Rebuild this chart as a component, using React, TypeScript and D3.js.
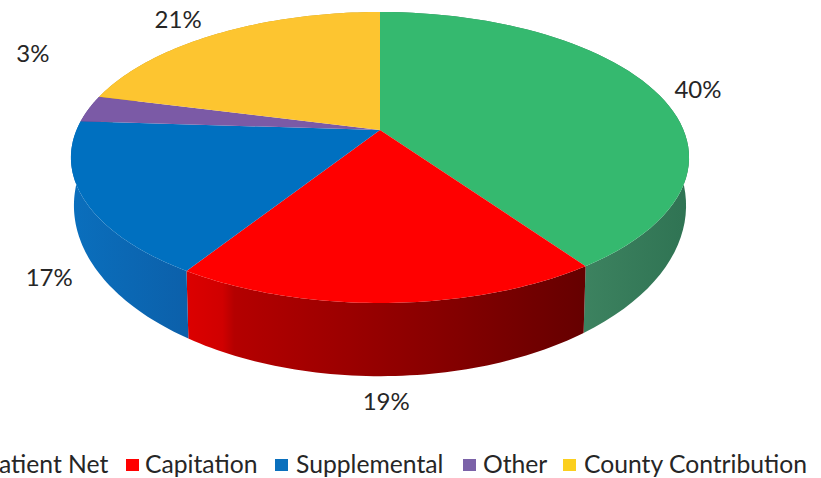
import React from 'react';
import * as d3 from 'd3';

const categories = ['Patient Net', 'Capitation', 'Supplemental', 'Other', 'County Contribution'];
// slice sizes estimated from the drawn angles, labels show them rounded
const shares = [40.3, 18.7, 17, 3, 21];
const topColors = ['#35b96f', '#ff0000', '#0070c0', '#7b5aa6', '#fdc530'];
const legendColors = ['#35b96f', '#ff0000', '#0a70bd', '#7b62a8', '#fbcf1e'];
const wallStops = [
  [[0.6, '#3f8562'], [1, '#2f7353']],
  [[0, '#dc0000'], [0.09, '#d00000'], [0.12, '#b40000'], [0.6, '#8a0000'], [1, '#650000']],
  [[0, '#0a6fbd'], [1, '#0c60aa']],
  [[0, '#5f4690'], [1, '#5f4690']],
  [[0, '#c79a20'], [1, '#c79a20']],
];

// label nudges from the rim point at each slice's middle
const labelNudge = [[44, -2], [-2, 98], [-35, 77], [-56, -56], [-40, -15]];
const legendTextX = [-15.5, 145, 296, 483, 584];
const legendSwatchX = [-34, 126, 275, 463, 563];

const width = 821;
const height = 478;
const apex = { x: 380, y: 130 };
const radiusX = 303.5;
const radiusY = 140.3;
const tilt = -0.189;

// outline of the top face and of the pie's underside
const topEllipse = { cy: 157, rx: 309, ry: 145 };
const floorEllipse = { cy: 205, rx: 306, ry: 170 };

// perspective projection of a point on the pie's rim
const rim = (a: number): [number, number] => {
  const X = Math.sin(a);
  const Y = -Math.cos(a);
  const k = 1 + tilt * Y;
  return [apex.x + (radiusX * X) / k, apex.y + (radiusY * Y) / k];
};

const floor = (a: number): [number, number] => {
  const [x, y] = rim(a);
  const u = (x - apex.x) / topEllipse.rx;
  const v = (y - topEllipse.cy) / topEllipse.ry;
  return [apex.x + u * floorEllipse.rx, floorEllipse.cy + v * floorEllipse.ry];
};

const pie = d3.pie<number>().sort(null)(shares);
const line = d3.line();

const steps = (s: d3.PieArcDatum<number>) =>
  d3.range(0, 61).map((i) => s.startAngle + ((s.endAngle - s.startAngle) * i) / 60);

export default function App() {
  return (
    <svg
      width={width}
      height={height}
      style={{ position: 'absolute', left: 0, top: 0, background: '#fff' }}
      fontFamily="Lato, 'Open Sans', sans-serif"
    >
      <defs>
        {pie.map((s, i) => {
          const xs = steps(s).map((a) => rim(a)[0]);
          return (
            <linearGradient
              key={i}
              id={`wall-${i}`}
              gradientUnits="userSpaceOnUse"
              x1={d3.min(xs)}
              x2={d3.max(xs)}
              y1={0}
              y2={0}
            >
              {wallStops[i].map(([o, c], j) => (
                <stop key={j} offset={o as number} stopColor={c as string} />
              ))}
            </linearGradient>
          );
        })}
      </defs>

      {/* side walls first, top face covers what is behind */}
      {pie.map((s, i) => {
        const arc = steps(s);
        const pts = [...arc.map(rim), ...arc.slice().reverse().map(floor)];
        return <path key={i} d={line(pts) + 'Z'} fill={`url(#wall-${i})`} />;
      })}

      {pie.map((s, i) => {
        const pts: [number, number][] = [[apex.x, apex.y], ...steps(s).map(rim)];
        return <path key={i} d={line(pts) + 'Z'} fill={topColors[i]} />;
      })}

      {pie.map((s, i) => {
        const [x, y] = rim((s.startAngle + s.endAngle) / 2);
        return (
          <text
            key={i}
            x={x + labelNudge[i][0]}
            y={y + labelNudge[i][1]}
            textAnchor="middle"
            dominantBaseline="central"
            fontSize={24}
            fill="#262626"
          >
            {Math.round(shares[i])}%
          </text>
        );
      })}

      {categories.map((c, i) => (
        <g key={c}>
          <rect x={legendSwatchX[i]} y={459} width={13} height={12} fill={legendColors[i]} />
          <text x={legendTextX[i]} y={473} fontSize={24.7} fill="#262626">
            {c}
          </text>
        </g>
      ))}
    </svg>
  );
}
